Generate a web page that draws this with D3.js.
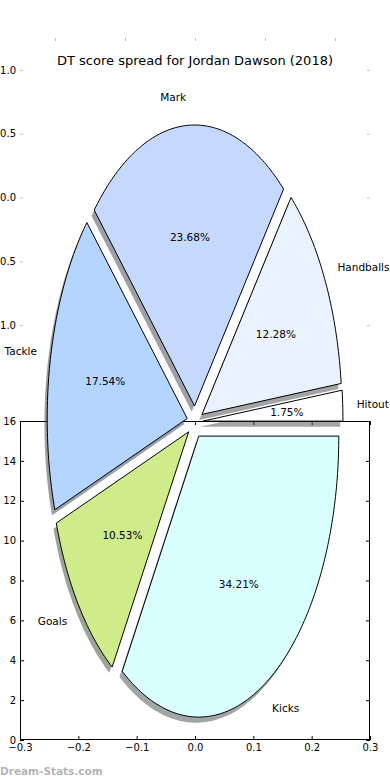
<!DOCTYPE html>
<html>
<head>
<meta charset="utf-8">
<script src="https://cdn.jsdelivr.net/npm/d3@7"></script>
<style>
  body { margin: 0; background: #fff; }
  text { font-family: "DejaVu Sans", sans-serif; }
</style>
</head>
<body>
<div id="chart"></div>
<script>
// DT points per stat for the season, in pie order (counter-clockwise from 3 o'clock)
var categories = ["Hitout", "Handballs", "Mark", "Tackle", "Goals", "Kicks"];
var points = [2, 14, 27, 20, 12, 39];
var colors = ["#ffffff", "#eaf2ff", "#c5d9ff", "#b3d5ff", "#d0eb8a", "#daffff"];

// tick values of the two overlapping axes
var pieTicks = [-1, -0.5, 0, 0.5, 1];
var xTicks = [-0.3, -0.2, -0.1, 0, 0.1, 0.2, 0.3];
var yTicks = [0, 2, 4, 6, 8, 10, 12, 14, 16];

var W = 390, H = 780;
var explode = 0.057;

var svg = d3.select("#chart").append("svg")
    .attr("width", W)
    .attr("height", H);

// ---- bottom axes (behind the pie)
var xB = d3.scaleLinear().domain([-0.3, 0.3]).range([20, 370]);
var yB = d3.scaleLinear().domain([0, 16]).range([740, 421]);

var fmt1 = d3.format(".1f");

var gB = svg.append("g").attr("class", "bottom-axes");

gB.append("g")
    .attr("transform", "translate(0," + yB(0) + ")")
    .call(d3.axisBottom(xB).tickValues(xTicks).tickSize(-4).tickPadding(4).tickFormat(fmt1));
gB.append("g")
    .attr("transform", "translate(0," + yB(16) + ")")
    .call(d3.axisTop(xB).tickValues(xTicks).tickSize(-4).tickFormat(""));
gB.append("g")
    .attr("transform", "translate(" + xB(-0.3) + ",0)")
    .call(d3.axisLeft(yB).tickValues(yTicks).tickSize(-4).tickPadding(4).tickFormat(d3.format("d")));
gB.append("g")
    .attr("transform", "translate(" + xB(0.3) + ",0)")
    .call(d3.axisRight(yB).tickValues(yTicks).tickSize(-4).tickFormat(""));

gB.selectAll(".domain").remove();
gB.selectAll(".tick line").attr("stroke", "#000");
gB.selectAll(".tick text").attr("fill", "#000").style("font-size", "10px");

gB.append("rect")
    .attr("x", xB(-0.3) + 0.5)
    .attr("y", yB(16) + 0.5)
    .attr("width", xB(0.3) - xB(-0.3) - 1)
    .attr("height", yB(0) - yB(16) - 1)
    .attr("fill", "none")
    .attr("stroke", "#000");

// ---- top (pie) axes: frameless, light ticks only
var xT = d3.scaleLinear().domain([-1.25, 1.25]).range([20, 370]);
var yT = d3.scaleLinear().domain([-1.25, 1.25]).range([357, 38]);

var gT = svg.append("g").attr("class", "pie-axes");

gT.append("g")
    .attr("transform", "translate(" + xT(-1.25) + ",0)")
    .call(d3.axisLeft(yT).tickValues(pieTicks).tickSize(-3).tickPadding(4).tickFormat(fmt1));
gT.append("g")
    .attr("transform", "translate(" + xT(1.25) + ",0)")
    .call(d3.axisRight(yT).tickValues(pieTicks).tickSize(-3).tickFormat(""));
gT.append("g")
    .attr("transform", "translate(0," + yT(1.25) + ")")
    .call(d3.axisTop(xT).tickValues(pieTicks).tickSize(-3).tickFormat(""));

gT.selectAll(".domain").remove();
gT.selectAll(".tick line").attr("stroke", "#c0c0c0");
gT.selectAll(".tick text").attr("fill", "#000").style("font-size", "10px");

// ---- pie (stretched: unit radius maps to an ellipse)
var px = d3.scaleLinear().domain([-1, 1]).range([xT(-1), xT(1)]);
var py = d3.scaleLinear().domain([-1, 1]).range([422 + 281, 422 - 281]);

var arcs = d3.pie().sort(null).startAngle(0).endAngle(2 * Math.PI)(points);
var total = d3.sum(points);

var line = d3.line()
    .x(function(d) { return px(d[0]); })
    .y(function(d) { return py(d[1]); });

function wedgePoints(a) {
  var m = (a.startAngle + a.endAngle) / 2;
  var ox = explode * Math.cos(m), oy = explode * Math.sin(m);
  var pts = [[ox, oy]];
  var n = Math.max(4, Math.ceil((a.endAngle - a.startAngle) * 60));
  for (var i = 0; i <= n; i++) {
    var t = a.startAngle + (a.endAngle - a.startAngle) * i / n;
    pts.push([ox + Math.cos(t), oy + Math.sin(t)]);
  }
  return pts;
}

function darker(c) {
  var r = d3.rgb(c);
  return d3.rgb(r.r * 0.3, r.g * 0.3, r.b * 0.3).toString();
}

var gP = svg.append("g").attr("class", "pie");

// shadows go behind every wedge
gP.selectAll("path.shadow")
    .data(arcs)
    .enter().append("path")
    .attr("class", "shadow")
    .attr("d", function(d) { return line(wedgePoints(d)) + "Z"; })
    .attr("transform", "translate(" + (-0.02 * (px(1) - px(0))) + "," + (0.02 * (py(0) - py(1))) + ")")
    .attr("fill", function(d, i) { return darker(colors[i]); })
    .attr("fill-opacity", 0.5);

gP.selectAll("path.wedge")
    .data(arcs)
    .enter().append("path")
    .attr("class", "wedge")
    .attr("d", function(d) { return line(wedgePoints(d)) + "Z"; })
    .attr("fill", function(d, i) { return colors[i]; })
    .attr("stroke", "#000")
    .attr("stroke-width", 1)
    .attr("stroke-linejoin", "miter");

// category labels outside, percentages inside
gP.selectAll("text.label")
    .data(arcs)
    .enter().append("text")
    .attr("class", "label")
    .attr("x", function(d) { var m = (d.startAngle + d.endAngle) / 2; return px((explode + 1.1) * Math.cos(m)); })
    .attr("y", function(d) { var m = (d.startAngle + d.endAngle) / 2; return py((explode + 1.1) * Math.sin(m)); })
    .attr("dy", "0.36em")
    .attr("text-anchor", function(d) { return Math.cos((d.startAngle + d.endAngle) / 2) > 0 ? "start" : "end"; })
    .style("font-size", "10.5px")
    .text(function(d, i) { return categories[i]; });

gP.selectAll("text.pct")
    .data(arcs)
    .enter().append("text")
    .attr("class", "pct")
    .attr("x", function(d) { var m = (d.startAngle + d.endAngle) / 2; return px((explode + 0.6) * Math.cos(m)); })
    .attr("y", function(d) { var m = (d.startAngle + d.endAngle) / 2; return py((explode + 0.6) * Math.sin(m)); })
    .attr("dy", "0.36em")
    .attr("text-anchor", "middle")
    .style("font-size", "10.5px")
    .text(function(d) { return (d.data / total * 100).toFixed(2) + "%"; });

// title and watermark
svg.append("text")
    .attr("x", 195)
    .attr("y", 65)
    .attr("text-anchor", "middle")
    .style("font-size", "13px")
    .text("DT score spread for Jordan Dawson (2018)");

svg.append("text")
    .attr("x", 0)
    .attr("y", 775)
    .attr("fill", "#b4b4b4")
    .style("font-size", "10.5px")
    .style("font-weight", "bold")
    .text("Dream-Stats.com");
</script>
</body>
</html>
